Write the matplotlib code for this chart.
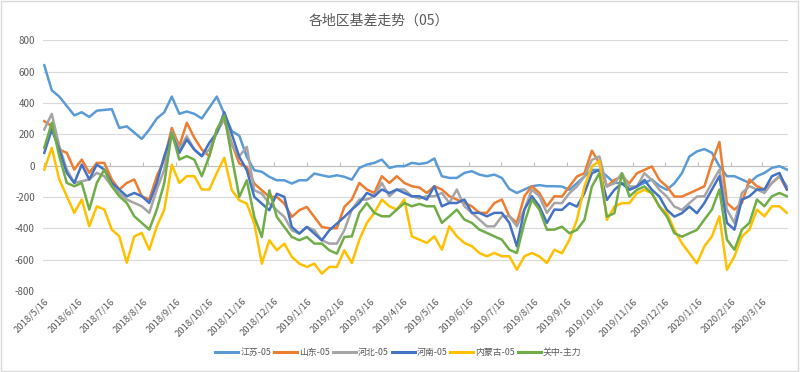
import matplotlib
matplotlib.use("Agg")
import matplotlib.pyplot as plt
from matplotlib.patches import Rectangle
import pandas as pd

plt.rcParams['font.family'] = ['Noto Sans CJK SC', 'DejaVu Sans']

title = "各地区基差走势（05）"
start_date = "2018-05-16"
n_weeks = 100
tick_months = pd.date_range("2018-05-16", "2020-03-16", freq=pd.DateOffset(months=1))
tick_labels = [f"{d.year}/{d.month}/{d.day}" for d in tick_months]
y_ticks = [-800, -600, -400, -200, 0, 200, 400, 600, 800]

series_names = ["江苏-05", "山东-05", "河北-05", "河南-05", "内蒙古-05", "关中-主力"]

jiangsu = [640, 480, 440, 380, 320, 340, 310, 350, 355, 360, 240, 250, 210, 170, 230, 300, 340,
           440, 330, 345, 330, 300, 370, 440, 330,
           220, 190, 55, -30, -40, -72, -94, -94, -115, -94, -94, -51, -62, -72, -62, -72,
           -90, -15, 6, 17, 38, -15, -4, -4, 17, 10,
           17, 45, -68, -79, -79, -47, -36, -58, -68, -58, -79, -150, -175, -153, -132, -125, -132, -132,
           -134, -155, -113, -70, -28, -28, -68, -111, -111, -153, -132, -111, -89, -130, -155, -113, -49, 58, 90,
           105, 81, -4, -68, -68, -89, -111, -68, -47, -15, -4, -26]
shandong = [283, 251, 102, 81, -26, 38, -47, 17, 17, -89, -153, -111, -89, -196, -217, -68, 38,
            240, 124, 273, 177, 102, 60, 230, 290,
            140, 13, -9, -115, -158, -200, -200, -243, -328, -285, -264, -328, -392, -400, -400, -264,
            -217, -111, -153, -175, -68, -111, -68, -111, -132, -140,
            -175, -132, -153, -196, -217, -239, -260, -302, -302, -239, -217, -324, -366, -196, -132, -175, -260, -196,
            -198, -134, -70, -49, 95, 15, -134, -92, -70, -113, -49, -28, -6, -92, -134, -198, -198, -177, -155,
            -132, 20, 150, -239, -281, -239, -89, -132, -153, -111, -68, -153]
hebei = [230, 330, 124, -26, -111, -100, -89, -47, -68, -132, -175, -217, -239, -260, -302, -153, -26,
         220, 102, 187, 102, 60, 102, 209, 300,
         130, 60, 119, -158, -179, -243, -285, -328, -413, -434, -392, -413, -477, -498, -498, -413,
         -281, -217, -217, -196, -111, -196, -153, -153, -196, -210,
         -196, -196, -175, -239, -153, -260, -302, -345, -388, -388, -324, -324, -388, -281, -153, -196, -302, -239,
         -240, -177, -134, -70, 36, 58, -134, -113, -49, -134, -134, -49, -92, -155, -198, -262, -283, -240, -198,
         -196, -111, -26, -281, -366, -175, -132, -153, -175, -111, -68, -132]
henan = [81, 230, 102, -47, -111, 6, -89, 6, -26, -111, -153, -196, -175, -196, -239, -111, 60,
         200, 81, 166, 102, 60, 145, 209, 340,
         200, 55, -30, -200, -243, -285, -180, -200, -392, -434, -392, -434, -477, -413, -371, -328,
         -281, -239, -175, -196, -153, -175, -153, -175, -196, -196,
         -217, -132, -260, -239, -239, -217, -302, -302, -324, -302, -302, -366, -515, -281, -196, -260, -366, -281,
         -283, -240, -262, -177, -49, -28, -219, -155, -113, -155, -134, -92, -155, -198, -283, -326, -304, -262, -304,
         -239, -153, -68, -366, -409, -217, -196, -153, -153, -68, -47, -153]
neimenggu = [-26, 113, -89, -196, -302, -217, -388, -260, -281, -409, -452, -620, -452, -430, -537, -388, -281,
             5, -111, -68, -68, -153, -153, -47, 50,
             -158, -221, -243, -370, -626, -477, -541, -498, -583, -626, -647, -626, -690, -647, -647, -541,
             -622, -473, -366, -302, -217, -260, -281, -217, -452, -473,
             -494, -452, -537, -388, -452, -494, -515, -558, -579, -558, -579, -579, -665, -579, -558, -580, -622, -537,
             -560, -475, -347, -134, -6, 30, -347, -262, -240, -240, -177, -155, -177, -262, -304, -411, -496, -560, -624,
             -515, -452, -324, -665, -579, -452, -409, -281, -324, -260, -260, -302]
guanzhong = [113, 273, 60, -111, -132, -111, -281, -111, -26, -132, -196, -239, -324, -366, -409, -281, -111,
             210, 38, 60, 38, -68, 60, 230, 320,
             55, -200, -94, -328, -456, -158, -328, -392, -456, -477, -456, -498, -498, -541, -562, -456,
             -452, -302, -239, -302, -324, -324, -281, -239, -260, -245,
             -260, -260, -366, -324, -281, -345, -366, -409, -430, -452, -473, -537, -558, -366, -217, -281, -409, -409,
             -390, -432, -411, -347, -134, -49, -326, -304, -49, -198, -155, -134, -177, -262, -326, -432, -454, -432, -411,
             -345, -281, -153, -473, -537, -409, -366, -217, -260, -196, -175, -196]

colors = ["#5B9BD5", "#ED7D31", "#A5A5A5", "#4472C4", "#FFC000", "#70AD47"]
all_series = [jiangsu, shandong, hebei, henan, neimenggu, guanzhong]

dates = pd.date_range(start_date, periods=n_weeks, freq="7D")

fig = plt.figure(figsize=(8, 3.72), dpi=100)
ax = fig.add_axes([0.054, 0.218, 0.931, 0.674])

for name, vals, c in zip(series_names, all_series, colors):
    ax.plot(dates, vals, color=c, lw=1.8, label=name)

ax.set_ylim(-800, 800)
ax.set_xlim(pd.Timestamp("2018-05-15"), pd.Timestamp("2020-04-09"))
ax.set_yticks(y_ticks)
ax.yaxis.grid(True, color="#D9D9D9", lw=0.8)
ax.set_axisbelow(True)
for s in ax.spines.values():
    s.set_visible(False)
ax.tick_params(axis='y', length=0, labelsize=7, labelcolor="#595959", pad=6)
ax.set_yticklabels([str(v) for v in y_ticks])

ax.set_xticks(tick_months)
ax.set_xticklabels(tick_labels, rotation=45, ha='right', va='top', rotation_mode='anchor',
                   fontsize=6.8, color="#595959")
ax.tick_params(axis='x', length=0, pad=4)

# zero axis line with tick marks
ax.axhline(0, color="#BFBFBF", lw=0.8, zorder=1)
sec = ax.secondary_xaxis(0.5)
sec.set_xticks(tick_months)
sec.set_xticklabels([])
sec.tick_params(axis='x', length=3, color="#BFBFBF", direction='out')
for s in sec.spines.values():
    s.set_visible(False)

fig.text(0.474, 0.945, title, ha='center', va='center', fontsize=10, color="#595959")

leg = fig.legend(loc='center', bbox_to_anchor=(0.498, 0.053), ncol=6, frameon=False,
                 fontsize=6.4, handlelength=2.6, columnspacing=0.35, handletextpad=0.2)
for t in leg.get_texts():
    t.set_color("#595959")
for l in leg.get_lines():
    l.set_linewidth(2.2)

fig.patches.append(Rectangle((0.001, 0.002), 0.997, 0.995, transform=fig.transFigure,
                             fill=False, edgecolor="#D9D9D9", lw=1))

fig.savefig("out.png", dpi=100)
